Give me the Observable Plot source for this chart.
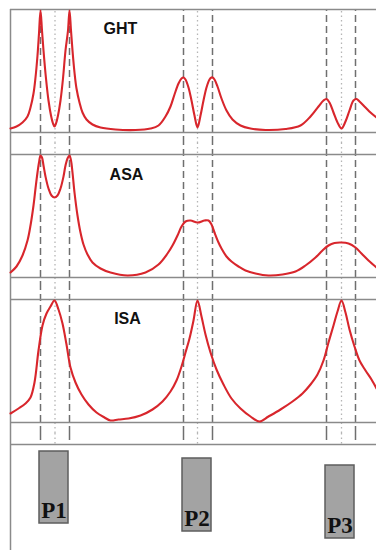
<!DOCTYPE html>
<html>
<head>
<meta charset="utf-8">
<script src="https://cdn.jsdelivr.net/npm/d3@7"></script>
<script src="https://cdn.jsdelivr.net/npm/@observablehq/plot@0.6"></script>
<style>
  html, body { margin: 0; padding: 0; background: #ffffff; }
  #chart { width: 376px; }
  #chart svg { display: block; }
</style>
</head>
<body>
<div id="chart"></div>
<script>
// ---- data (x: position along the run, v: signal above baseline) ----
const ghtX = [10,16,22,27,30,33,35,37,38.5,40,41.5,43,45.5,48,50.5,52.5,54,55.5,57.5,60,62.5,65,67.5,69,70.5,72,74,76,79,82,86,92,100,115,135,150,158,165,170,174,178,181,183,185,188,191,194,197,200,203,206,209,211,212,214,217,221,226,232,240,250,265,285,300,310,318,323,326,329,333,337,341,345,349,353,356,359,365,370,376];
const ghtV = [4,6,10,16,25,39,55,77,99,122,102,82,54,32,17,9,6,9,17,32,54,82,102,122,102,82,60,44,30,20,13,8,5,3,2.5,4,7,16,26,38,49,54,55,53,45,32,17,5,17,32,45,53,55,55,53,46,34,22,13,7,4,2.5,3.5,7,16,26,32,33.5,30,20,10,4,11,22,32,33.5,31,25,20,15];

const asaX = [10,16,22,27,30,33,35,37,38.5,40,41.5,43,45,48,51,54,57,60,63,65,67,69,70.5,72,74,77,80,83,87,92,100,110,127,145,158,167,172,177,181,185,190,197,204,208,211,214,218,221,226,231,238,245,255,268,282,295,305,315,322,328,334,341,348,355,361,368,376];
const asaV = [5,11,22,37,52,72,89,105,115,122,120,112,101,89,82,80,82,89,101,112,119,122,117,105,85,62,45,33,23,15,9,5,2,5,13,24,32,42,51,56,57,55,57,57,53,45,35,29,21,16,11,7,4,2,3,6,12,20,27,32,34.5,35,34,30,24,17,10];

const isaX = [10,18,25,30,34,38,42,46,50,54,58,62,66,70,75,81,88,96,104,110,118,128,140,152,162,170,176,181,185,189,193,197,201,205,210,216,223,231,240,250,259,268,280,292,302,310,317,323,328,333,337,341,345,349,354,359,365,371,376];
const isaV = [9,14,19,25,40,72,97,109,116,122,113,99,78,55,40,28,18,10,5,2,3,4,7,13,21,31,42,56,70,84,102,122,106,88,70,53,38,24,14,6,1,6,13,21,29,38,48,62,80,97,111,122,110,93,76,62,52,43,34];

const panelNames = ["GHT", "ASA", "ISA"];
const panelLabelX = [120, 126, 127];
const panelLabelV = [103.5, 102.5, 104];

const dashedMarks = [40, 69, 183, 212, 326, 355];
const dottedMarks = [54.5, 197, 341];

const bandNames = ["P1", "P2", "P3"];
const bandCenter = [53.5, 196.5, 339.5];
const bandTop = [7, 14, 21];
const bandBottom = [79, 87, 94];
const bandLabelLevel = [66, 74, 81];

// ---- styles ----
const RED = "#d8262c";
const FRAME = "#8a8a8a";
const DASH = "#6f6f6f";
const DOT = "#b5b5b5";
const BAND_HALF = 14.5;

const zip = (xs, vs) => xs.map((x, i) => ({x, v: vs[i]}));
const series = [zip(ghtX, ghtV), zip(asaX, asaV), zip(isaX, isaV)];

const chart = document.getElementById("chart");

function signalPanel(i) {
  const first = i === 0;
  const marginTop = first ? 9 : 11;
  const height = first ? 143 : 145;
  const top = first ? 123 : 134;
  const bottom = -11;
  return Plot.plot({
    width: 376, height,
    marginLeft: 10, marginRight: 0, marginTop, marginBottom: 11,
    x: {domain: [10, 376], axis: null},
    y: {domain: [0, 123], axis: null},
    marks: [
      Plot.ruleX(dottedMarks, {x: d => d, y1: bottom, y2: top, stroke: DOT, strokeWidth: 1.3, strokeDasharray: "1.5,3"}),
      Plot.ruleX(dashedMarks, {x: d => d, y1: bottom, y2: top, stroke: DASH, strokeWidth: 1.5, strokeDasharray: "7,4"}),
      Plot.ruleX([10], {y1: bottom, y2: top, stroke: FRAME, strokeWidth: 1.5}),
      Plot.ruleY([0, 123], {stroke: FRAME, strokeWidth: 1.5}),
      Plot.line(series[i], {x: "x", y: "v", stroke: RED, strokeWidth: 2.1, curve: "catmull-rom"}),
      Plot.text([panelNames[i]], {
        x: panelLabelX[i], y: panelLabelV[i], text: d => d,
        fontSize: 16, fontWeight: "bold", fill: "#111",
        fontFamily: "Liberation Sans, Arial, sans-serif", textAnchor: "middle"
      })
    ]
  });
}

for (let i = 0; i < 3; i++) chart.appendChild(signalPanel(i));

const bands = bandNames.map((name, i) => ({
  name, c: bandCenter[i], top: bandTop[i], bottom: bandBottom[i], lab: bandLabelLevel[i]
}));

chart.appendChild(Plot.plot({
  width: 376, height: 117,
  marginLeft: 10, marginRight: 0, marginTop: 11, marginBottom: 0,
  x: {domain: [10, 376], axis: null},
  y: {domain: [106, 0], axis: null},
  marks: [
    Plot.ruleX(dottedMarks, {x: d => d, y1: -11, y2: 0, stroke: DOT, strokeWidth: 1.3, strokeDasharray: "1.5,3"}),
    Plot.ruleX(dashedMarks, {x: d => d, y1: -11, y2: 0, stroke: DASH, strokeWidth: 1.5, strokeDasharray: "7,4"}),
    Plot.ruleX([10], {y1: -11, y2: 106, stroke: FRAME, strokeWidth: 1.5}),
    Plot.ruleY([0], {stroke: FRAME, strokeWidth: 1.5}),
    Plot.rect(bands, {
      x1: d => d.c - BAND_HALF, x2: d => d.c + BAND_HALF, y1: "top", y2: "bottom",
      fill: "#a3a3a3", stroke: "#5e5e5e", strokeWidth: 1.5
    }),
    Plot.text(bands, {
      x: "c", y: "lab", text: "name",
      fontSize: 23, fontWeight: "bold", fill: "#111",
      fontFamily: "Liberation Serif, Times New Roman, serif", textAnchor: "middle"
    })
  ]
}));
</script>
</body>
</html>
